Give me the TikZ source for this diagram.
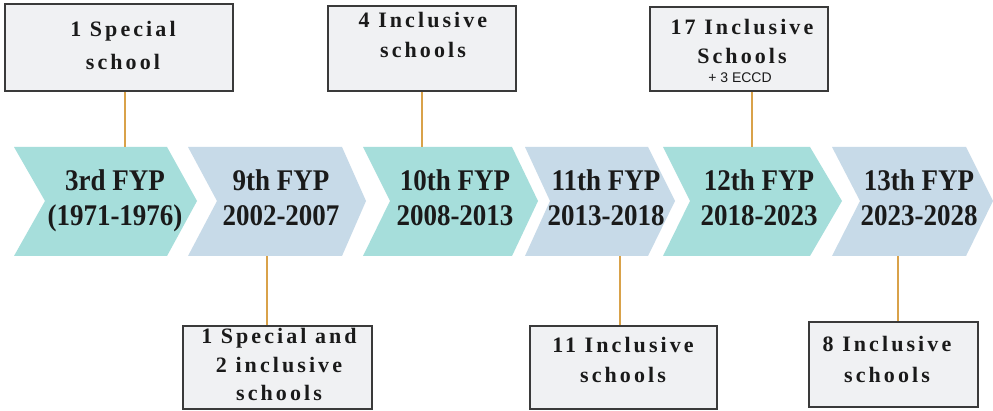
\documentclass[tikz,border=0pt]{standalone}
\usepackage{fontspec}
\setmainfont{Liberation Serif}
\newfontfamily\boxfont[LetterSpace=14]{Liberation Serif}
\newfontfamily\chevfont[FakeStretch=0.9]{Liberation Serif}
\newfontfamily\ecfont{Liberation Sans}
\definecolor{tealc}{HTML}{A6DEDB}
\definecolor{bluec}{HTML}{C7DAE8}
\definecolor{boxfill}{HTML}{F0F1F3}
\definecolor{boxline}{HTML}{3A3A3A}
\definecolor{connc}{HTML}{D9A24A}
\definecolor{txt}{HTML}{1A1A1A}
\begin{document}
\begin{tikzpicture}[x=1pt,y=-1pt,
  chevA/.style={fill=tealc,draw=none},
  chevB/.style={fill=bluec,draw=none},
  ctext/.style={font=\chevfont\bfseries\fontsize{30}{30}\selectfont,anchor=base,inner sep=0pt,text=txt},
  boxr/.style={draw=boxline,line width=1.8pt,fill=boxfill,inner sep=0pt},
  btext/.style={font=\boxfont\bfseries\fontsize{22}{22}\selectfont,anchor=base,inner sep=0pt,text=txt},
  etext/.style={font=\ecfont\fontsize{14}{14}\selectfont,anchor=base,inner sep=0pt,text=txt},
  conn/.style={draw=connc,line width=1.2pt}]
\fill[white] (0,0) rectangle (993,411);
\useasboundingbox (0,0) rectangle (993,411);
% chevrons
\fill[chevA] (14,147) -- (167,147) -- (197,201) -- (167,256) -- (14,256) -- (45,201) -- cycle;
\fill[chevB] (188,147) -- (342,147) -- (366,201) -- (342,256) -- (188,256) -- (217,201) -- cycle;
\fill[chevA] (363,147) -- (512,147) -- (538,201) -- (512,256) -- (363,256) -- (390,201) -- cycle;
\fill[chevB] (525,147) -- (648,147) -- (675,201) -- (648,256) -- (525,256) -- (550,201) -- cycle;
\fill[chevA] (663,147) -- (810,147) -- (842,201) -- (810,256) -- (663,256) -- (690,201) -- cycle;
\fill[chevB] (832,147) -- (966,147) -- (993,201) -- (966,256) -- (832,256) -- (860,201) -- cycle;
% chevron labels
\node[ctext] (c1a) at (115,191) {3rd FYP};
\node[ctext] (c1b) at (115,226) {(1971-1976)};
\node[ctext] (c2a) at (281,191) {9th FYP};
\node[ctext] (c2b) at (281,226) {2002-2007};
\node[ctext] (c3a) at (455,191) {10th FYP};
\node[ctext] (c3b) at (455,226) {2008-2013};
\node[ctext] (c4a) at (606,191) {11th FYP};
\node[ctext] (c4b) at (606,226) {2013-2018};
\node[ctext] (c5a) at (759,191) {12th FYP};
\node[ctext] (c5b) at (759,226) {2018-2023};
\node[ctext] (c6a) at (919,191) {13th FYP};
\node[ctext] (c6b) at (919,226) {2023-2028};
% connector end points on the chevrons
\coordinate (k1) at (125,147);
\coordinate (k2) at (422,147);
\coordinate (k3) at (752,147);
\coordinate (k4) at (267,256);
\coordinate (k5) at (620,256);
\coordinate (k6) at (898,256);
% boxes
\node[boxr,minimum width=228pt,minimum height=87pt] (t1) at (119,47.5) {};
\node[boxr,minimum width=188pt,minimum height=85pt] (t2) at (422,48.5) {};
\node[boxr,minimum width=178pt,minimum height=84pt] (t3) at (739,49) {};
\node[boxr,minimum width=189pt,minimum height=83pt] (b1) at (277.5,367.5) {};
\node[boxr,minimum width=187pt,minimum height=83pt] (b2) at (623.5,367.5) {};
\node[boxr,minimum width=169pt,minimum height=85pt] (b3) at (893.5,364.5) {};
% connectors
\draw[conn] (t1.south -| k1) -- (k1);
\draw[conn] (t2.south -| k2) -- (k2);
\draw[conn] (t3.south -| k3) -- (k3);
\draw[conn] (k4) -- (b1.north -| k4);
\draw[conn] (k5) -- (b2.north -| k5);
\draw[conn] (k6) -- (b3.north -| k6);
% box texts
\node[btext] (t1a) at (123,37) {1 Special};
\node[btext] (t1b) at (123,70) {school};
\node[btext] (t2a) at (423,28) {4 Inclusive};
\node[btext] (t2b) at (423,58) {schools};
\node[btext] (t3a) at (742,35) {17 Inclusive};
\node[btext] (t3b) at (742,64) {Schools};
\node[etext] (t3c) at (740,83) {+ 3 ECCD};
\node[btext] (b1a) at (279,344) {1 Special and};
\node[btext] (b1b) at (279,373) {2 inclusive};
\node[btext] (b1c) at (279,400) {schools};
\node[btext] (b2a) at (623,353) {11 Inclusive};
\node[btext] (b2b) at (623,382) {schools};
\node[btext] (b3a) at (887,352) {8 Inclusive};
\node[btext] (b3b) at (887,382) {schools};
\end{tikzpicture}
\end{document}
